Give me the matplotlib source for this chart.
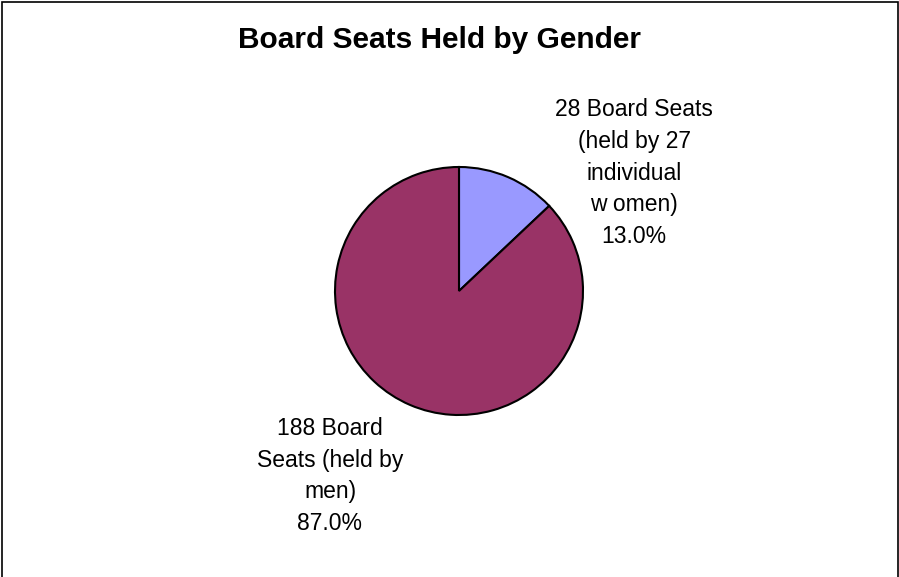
import matplotlib.pyplot as plt
from matplotlib.patches import Rectangle

plt.rcParams['font.family'] = ['Liberation Sans', 'DejaVu Sans']

W, H = 899, 577

TITLE = "Board Seats Held by Gender"
SEATS = [28, 188]
LABELS = [
    "28 Board Seats\n(held by 27\nindividual\nw omen)",
    "188 Board\nSeats (held by\nmen)",
]
COLORS = ['#9999FF', '#993366']


def py(y):
    # pixel rows run downward, axes y runs upward
    return H - y


fig = plt.figure(figsize=(W / 100, H / 100), dpi=100)
ax = fig.add_axes([0, 0, 1, 1])

ax.pie(SEATS, colors=COLORS, startangle=90, counterclock=False,
       center=(459, py(291)), radius=124,
       wedgeprops=dict(edgecolor='black', linewidth=1.5))
ax.set_xlim(0, W)
ax.set_ylim(0, H)
ax.set_aspect('equal')
ax.axis('off')

total = sum(SEATS)
pcts = ["%.1f%%" % (100.0 * s / total) for s in SEATS]

ax.text(634, py(173), LABELS[0] + "\n" + pcts[0], ha='center', va='center',
        fontsize=16.5, linespacing=1.49, color='black')
ax.text(330, py(476), LABELS[1] + "\n" + pcts[1], ha='center', va='center',
        fontsize=16.5, linespacing=1.49, color='black')

ax.text(440, py(40), TITLE, ha='center', va='center',
        fontsize=21.5, fontweight='bold', color='black')

# chart frame
fig.patches.append(Rectangle((1.5 / W, -0.01), (W - 3) / W, 1 - 1.5 / H + 0.01,
                             transform=fig.transFigure, fill=False,
                             edgecolor='black', linewidth=1.2))

fig.savefig('out.png', dpi=100, facecolor='white')
